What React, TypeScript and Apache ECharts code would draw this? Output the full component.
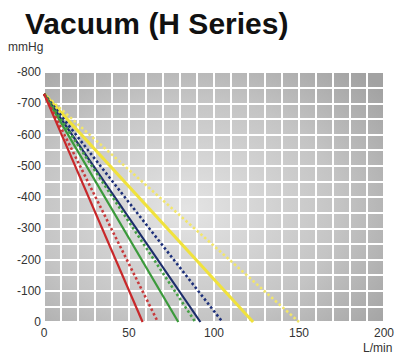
import React, { useEffect, useRef } from "react";
import * as echarts from "echarts";

const seriesNames = ["Red", "Red dotted", "Green", "Green dotted", "Navy", "Navy dotted", "Yellow", "Yellow dotted"];
const startVacuum = -730;
const maxFlows = [58, 67, 79, 89, 92, 105, 123, 150];
const seriesColors = ["#c8282a", "#c83a3c", "#3b9a3b", "#45a045", "#1c2d6b", "#1c2f7a", "#f0e23c", "#f2e66a"];
const seriesDotted = [false, true, false, true, false, true, false, true];
const xTicks = [0, 50, 100, 150, 200];
const yTicks = [-800, -700, -600, -500, -400, -300, -200, -100, 0];

export default function App() {
  const ref = useRef<HTMLDivElement>(null);
  useEffect(() => {
    const chart = echarts.init(ref.current!, null, { renderer: "svg" });
    const font = "Liberation Sans, Arial, sans-serif";
    chart.setOption({
      animation: false,
      title: {
        text: "Vacuum (H Series)",
        left: 20,
        top: 3,
        textStyle: { fontSize: 30, fontWeight: "bold", color: "#111", fontFamily: font },
      },
      grid: {
        left: 44,
        right: 16,
        top: 72,
        bottom: 35,
        show: true,
        borderWidth: 0,
        backgroundColor: new echarts.graphic.RadialGradient(0.42, 0.55, 0.75, [
          { offset: 0, color: "#e4e4e4" },
          { offset: 0.6, color: "#c4c4c4" },
          { offset: 1, color: "#a2a2a2" },
        ]),
      },
      xAxis: {
        type: "value",
        min: 0,
        max: 200,
        interval: 10,
        axisLine: { show: false },
        axisTick: { show: false },
        splitLine: { show: true, lineStyle: { color: "#ffffff", width: 2 } },
        axisLabel: {
          margin: 5,
          color: "#333",
          fontSize: 12,
          fontFamily: font,
          formatter: (v: number) => (xTicks.includes(v) ? String(v) : ""),
        },
      },
      yAxis: {
        type: "value",
        inverse: true,
        min: -800,
        max: 0,
        interval: 50,
        axisLine: { show: false },
        axisTick: { show: false },
        splitLine: { show: true, lineStyle: { color: "#ffffff", width: 2 } },
        axisLabel: {
          margin: 3,
          color: "#333",
          fontSize: 12,
          fontFamily: font,
          formatter: (v: number) => (yTicks.includes(v) ? String(v) : ""),
        },
      },
      graphic: [
        { type: "text", left: 8, top: 41, style: { text: "mmHg", fontSize: 12, fill: "#333", fontFamily: font } },
        { type: "text", left: 363, top: 342, style: { text: "L/min", fontSize: 12, fill: "#333", fontFamily: font } },
      ],
      series: seriesNames.map((name, i) => ({
        name,
        type: "line",
        symbol: "none",
        data: [
          [0, startVacuum],
          [maxFlows[i], 0],
        ],
        lineStyle: {
          color: seriesColors[i],
          width: i === 6 ? 3 : seriesDotted[i] ? 2.6 : 2.2,
          type: seriesDotted[i] ? [2.5, 2.5] : "solid",
        },
        z: 10 - i,
      })),
    });
    return () => chart.dispose();
  }, []);
  return <div ref={ref} style={{ width: 400, height: 357, position: "absolute", left: 0, top: 0 }} />;
}
